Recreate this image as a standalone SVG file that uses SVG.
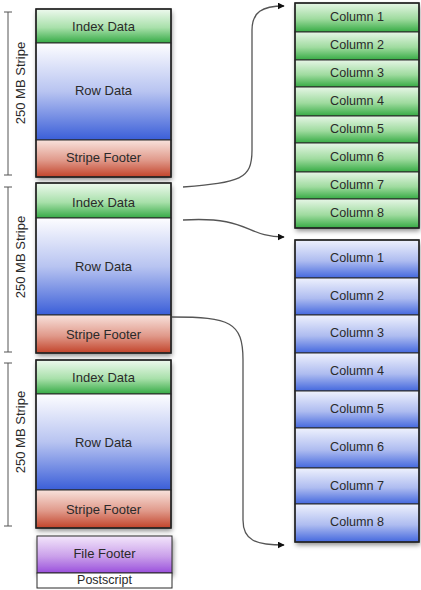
<svg xmlns="http://www.w3.org/2000/svg" width="421" height="590" viewBox="0 0 421 590">
<style>
text{font-family:"Liberation Sans",Arial,sans-serif;font-size:13px;fill:#2a2a2a;text-anchor:middle;dominant-baseline:central}
.col{font-size:12.6px}
.b{stroke:#2a2a2a;stroke-width:1}
.o{fill:none;stroke:#222;stroke-width:1.5}
.br{stroke:#555;stroke-width:1;fill:none}
.c{fill:none;stroke:#555;stroke-width:1.3}
</style>
<defs>
<linearGradient id="gI" x1="0" y1="0" x2="0" y2="1"><stop offset="0" stop-color="#eef9ee"/><stop offset="0.55" stop-color="#a8e0aa"/><stop offset="1" stop-color="#35aa45"/></linearGradient>
<linearGradient id="gR" x1="0" y1="0" x2="0" y2="1"><stop offset="0" stop-color="#fdfdff"/><stop offset="0.5" stop-color="#b8c4f1"/><stop offset="1" stop-color="#3a5ed8"/></linearGradient>
<linearGradient id="gF" x1="0" y1="0" x2="0" y2="1"><stop offset="0" stop-color="#f8e2dc"/><stop offset="0.55" stop-color="#e0998a"/><stop offset="1" stop-color="#c2432a"/></linearGradient>
<linearGradient id="gP" x1="0" y1="0" x2="0" y2="1"><stop offset="0" stop-color="#f3e6fb"/><stop offset="0.55" stop-color="#caa0ea"/><stop offset="1" stop-color="#9a50dc"/></linearGradient>
<linearGradient id="gCG" x1="0" y1="0" x2="0" y2="1"><stop offset="0" stop-color="#e6f6e6"/><stop offset="0.55" stop-color="#9fdb9f"/><stop offset="1" stop-color="#36ab44"/></linearGradient>
<linearGradient id="gCB" x1="0" y1="0" x2="0" y2="1"><stop offset="0" stop-color="#eef1fd"/><stop offset="0.55" stop-color="#aebcf0"/><stop offset="1" stop-color="#4468de"/></linearGradient>
<filter id="sh" x="-10%" y="-10%" width="130%" height="130%"><feDropShadow dx="1" dy="3" stdDeviation="2.5" flood-color="#000" flood-opacity="0.45"/></filter>
<marker id="ah" viewBox="0 0 10 10" refX="9" refY="5" markerWidth="7" markerHeight="7" orient="auto" markerUnits="userSpaceOnUse"><path d="M0,0 L10,5 L0,10 z" fill="#111"/></marker>
</defs>

<g id="brackets">
<path class="br" d="M8,12 V175 M4,12 H12 M4,175 H12"/>
<path class="br" d="M8,187 V352 M4,187 H12 M4,352 H12"/>
<path class="br" d="M8,363 V526 M4,363 H12 M4,526 H12"/>
<text transform="translate(20,83) rotate(-90)">250 MB Stripe</text>
<text transform="translate(20,257) rotate(-90)">250 MB Stripe</text>
<text transform="translate(20,432) rotate(-90)">250 MB Stripe</text>
</g>

<g id="stripe1">
<rect x="36" y="9" width="135" height="168" fill="#fff" filter="url(#sh)"/>
<g id="s1-index"><rect class="b" x="36" y="9" width="135" height="34" fill="url(#gI)"/><text x="103.5" y="26">Index Data</text></g>
<g id="s1-row"><rect class="b" x="36" y="43" width="135" height="97" fill="url(#gR)"/><text x="103.5" y="90">Row Data</text></g>
<g id="s1-footer"><rect class="b" x="36" y="140" width="135" height="37" fill="url(#gF)"/><text x="103.5" y="157">Stripe Footer</text></g>
<rect class="o" x="36" y="9" width="135" height="168"/>
</g>

<g id="stripe2">
<rect x="36" y="183" width="135" height="170" fill="#fff" filter="url(#sh)"/>
<g id="s2-index"><rect class="b" x="36" y="183" width="135" height="35" fill="url(#gI)"/><text x="103.5" y="202">Index Data</text></g>
<g id="s2-row"><rect class="b" x="36" y="218" width="135" height="97" fill="url(#gR)"/><text x="103.5" y="266">Row Data</text></g>
<g id="s2-footer"><rect class="b" x="36" y="315" width="135" height="38" fill="url(#gF)"/><text x="103.5" y="334">Stripe Footer</text></g>
<rect class="o" x="36" y="183" width="135" height="170"/>
</g>

<g id="stripe3">
<rect x="36" y="360" width="135" height="168" fill="#fff" filter="url(#sh)"/>
<g id="s3-index"><rect class="b" x="36" y="360" width="135" height="34" fill="url(#gI)"/><text x="103.5" y="377">Index Data</text></g>
<g id="s3-row"><rect class="b" x="36" y="394" width="135" height="96" fill="url(#gR)"/><text x="103.5" y="442">Row Data</text></g>
<g id="s3-footer"><rect class="b" x="36" y="490" width="135" height="38" fill="url(#gF)"/><text x="103.5" y="509">Stripe Footer</text></g>
<rect class="o" x="36" y="360" width="135" height="168"/>
</g>

<g id="file-footer"><rect class="b" x="37" y="536" width="135" height="37" fill="url(#gP)" filter="url(#sh)"/><text x="104.5" y="553">File Footer</text></g>
<g id="postscript"><rect class="b" x="37" y="573" width="135" height="15" fill="#fff"/><text x="104.5" y="580" style="font-size:12.5px">Postscript</text></g>

<g id="index-columns">
<rect x="295" y="3" width="124" height="225" fill="#fff" filter="url(#sh)"/>
<g id="ic1"><rect class="b" x="295" y="3" width="124" height="29" fill="url(#gCG)"/><text class="col" x="357" y="17">Column 1</text></g>
<g id="ic2"><rect class="b" x="295" y="32" width="124" height="28" fill="url(#gCG)"/><text class="col" x="357" y="45">Column 2</text></g>
<g id="ic3"><rect class="b" x="295" y="60" width="124" height="27" fill="url(#gCG)"/><text class="col" x="357" y="73">Column 3</text></g>
<g id="ic4"><rect class="b" x="295" y="87" width="124" height="29" fill="url(#gCG)"/><text class="col" x="357" y="101">Column 4</text></g>
<g id="ic5"><rect class="b" x="295" y="116" width="124" height="27" fill="url(#gCG)"/><text class="col" x="357" y="129">Column 5</text></g>
<g id="ic6"><rect class="b" x="295" y="143" width="124" height="29" fill="url(#gCG)"/><text class="col" x="357" y="157">Column 6</text></g>
<g id="ic7"><rect class="b" x="295" y="172" width="124" height="27" fill="url(#gCG)"/><text class="col" x="357" y="185">Column 7</text></g>
<g id="ic8"><rect class="b" x="295" y="199" width="124" height="29" fill="url(#gCG)"/><text class="col" x="357" y="213">Column 8</text></g>
<rect class="o" x="295" y="3" width="124" height="225"/>
</g>

<g id="data-columns">
<rect x="295" y="240" width="124" height="302" fill="#fff" filter="url(#sh)"/>
<g id="dc1"><rect class="b" x="295" y="240" width="124" height="38" fill="url(#gCB)"/><text class="col" x="357" y="258">Column 1</text></g>
<g id="dc2"><rect class="b" x="295" y="278" width="124" height="37" fill="url(#gCB)"/><text class="col" x="357" y="296">Column 2</text></g>
<g id="dc3"><rect class="b" x="295" y="315" width="124" height="38" fill="url(#gCB)"/><text class="col" x="357" y="333">Column 3</text></g>
<g id="dc4"><rect class="b" x="295" y="353" width="124" height="38" fill="url(#gCB)"/><text class="col" x="357" y="371">Column 4</text></g>
<g id="dc5"><rect class="b" x="295" y="391" width="124" height="37" fill="url(#gCB)"/><text class="col" x="357" y="409">Column 5</text></g>
<g id="dc6"><rect class="b" x="295" y="428" width="124" height="40" fill="url(#gCB)"/><text class="col" x="357" y="447">Column 6</text></g>
<g id="dc7"><rect class="b" x="295" y="468" width="124" height="36" fill="url(#gCB)"/><text class="col" x="357" y="486">Column 7</text></g>
<g id="dc8"><rect class="b" x="295" y="504" width="124" height="38" fill="url(#gCB)"/><text class="col" x="357" y="522">Column 8</text></g>
<rect class="o" x="295" y="240" width="124" height="302"/>
</g>

<g id="connectors">
<path class="c" marker-end="url(#ah)" d="M183,187 C240,182 252,180 252,150 V30 C252,12 262,6 284,6"/>
<path class="c" marker-end="url(#ah)" d="M183,220 C250,216 245,237 284,237"/>
<path class="c" marker-end="url(#ah)" d="M172,317 C230,317 243,322 243,360 V520 C243,540 255,545 284,545"/>
</g>
</svg>
